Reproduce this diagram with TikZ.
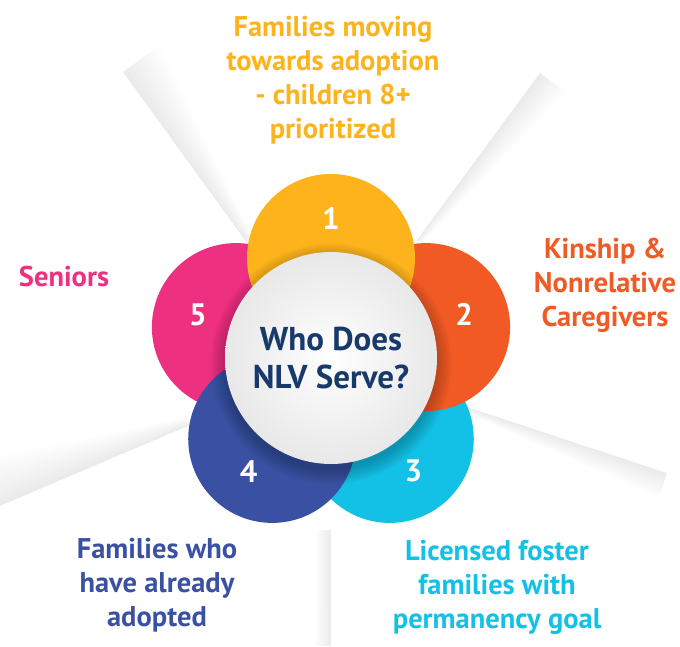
\documentclass[tikz,border=0pt]{standalone}
\usepackage{fontspec}
\setmainfont{PT Sans}
\usetikzlibrary{calc,positioning}
\definecolor{nlvyellow}{HTML}{FCB31C}
\definecolor{nlvorange}{HTML}{F15A24}
\definecolor{nlvcyan}{HTML}{14C1E6}
\definecolor{nlvblue}{HTML}{3A51A3}
\definecolor{nlvpink}{HTML}{EE3080}
\definecolor{nlvnavy}{HTML}{173A6B}

\begin{document}
\begin{tikzpicture}[x=1pt,y=1pt]
\tikzstyle{petal}=[circle, inner sep=0pt, outer sep=0pt, minimum size=168pt]
\tikzstyle{num}=[text=white, font=\fontsize{31}{31}\selectfont\bfseries]
\tikzstyle{lbl}=[align=center, font=\fontsize{28.5}{34}\selectfont\bfseries]
\useasboundingbox (0,0) rectangle (680,646);

% light rays behind the flower
\foreach \px/\py/\qx/\qy/\wa/\wb in {247/403/123/574/8/45, 417/406/540/573/6/32, 467/239/667/173/6/26, 190/221/0/140/8/50, 331/116/331/0/14/16}
  \foreach \k in {1,...,10}
    \fill[black, opacity=0.008] (\px,\py) -- (\qx,\qy) -- ($(\qx,\qy)!{\k*\wb*0.1pt}!90:(\px,\py)$) -- ($(\px,\py)!{\k*\wa*0.1pt}!-90:(\qx,\qy)$) -- cycle;

% petals
\coordinate (c) at (331,288);
\foreach \ang/\col/\n in {162/nlvpink/5, -54/nlvcyan/3, 18/nlvorange/2, 90/nlvyellow/1, -126/nlvblue/4}
  \node[petal, fill=\col] (p\n) at ($(c)+(\ang:100)$) {};

% soft shadow of the hub
\foreach \r in {0,...,9}
  \fill[black, opacity=0.025] ($(c)+(0,-6)$) circle (106+\r*1.6);

\node[circle, minimum size=212pt, inner sep=0pt, inner color=white, outer color=black!9,
  text=nlvnavy, align=center, font=\fontsize{33}{38}\selectfont\bfseries] (hub) at (c) {Who Does\\NLV Serve?};

\foreach \ang/\n in {90/1, 18/2, -54/3, -126/4, 162/5}
  \node[num] (n\n) at ($(c)+(\ang:140)$) {\n};

\node[lbl, text=nlvyellow] (l1) at (333,566) {Families moving\\towards adoption\\- children 8+\\prioritized};
\node[lbl, text=nlvorange] (l2) at (605,361) {Kinship \&\\Nonrelative\\Caregivers};
\node[lbl, text=nlvcyan] (l3) at (497,59) {Licensed foster\\families with\\permanency goal};
\node[lbl, text=nlvblue] (l4) at (157,61) {Families who\\have already\\adopted};
\node[lbl, text=nlvpink] (l5) at (64,369) {Seniors};
\end{tikzpicture}
\end{document}
